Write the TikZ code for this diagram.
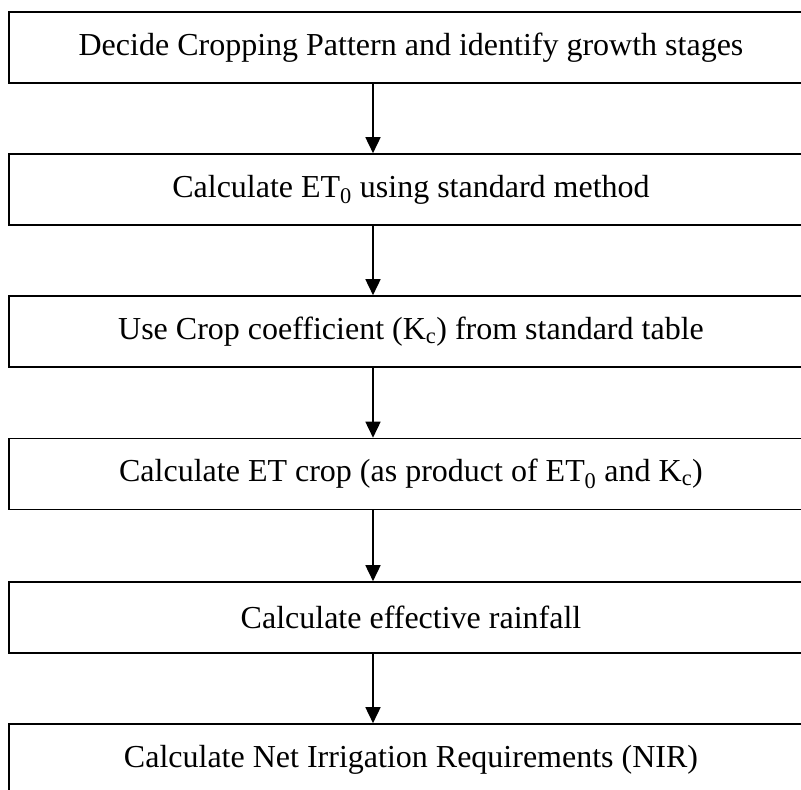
\documentclass[tikz,border=0pt]{standalone}
\usepackage{fontspec}
\setmainfont{Liberation Serif}
\usetikzlibrary{arrows.meta,positioning}

\begin{document}
\begin{tikzpicture}[x=1pt,y=-1pt,
  stage/.style={rectangle,draw,line width=1.6pt,minimum width=804pt,minimum height=71pt,
    inner sep=0pt,font=\fontsize{32}{38}\selectfont},
  flow/.style={-{Triangle[width=15pt,length=16pt]},line width=1.6pt}]
\useasboundingbox (0,0) rectangle (801,790);
\clip (0,0) rectangle (801,790);
% Steps of the irrigation requirement
\node[stage] (s1) at (411,47.5) {Decide Cropping Pattern and identify growth stages};
\node[stage] (s2) at (411,189.5) {Calculate ET\textsubscript{0} using standard method};
\node[stage] (s3) at (411,331.5) {Use Crop coefficient (K\textsubscript{c}) from standard table};
\node[stage] (s4) at (411,474) {Calculate ET crop (as product of ET\textsubscript{0} and K\textsubscript{c})};
\node[stage] (s5) at (411,617.5) {Calculate effective rainfall};
\node[stage] (s6) at (411,759.5) {Calculate Net Irrigation Requirements (NIR)};

\coordinate (ax) at (373,0);
\draw[flow] (s1.south -| ax) -- (s2.north -| ax);
\draw[flow] (s2.south -| ax) -- (s3.north -| ax);
\draw[flow] (s3.south -| ax) -- (s4.north -| ax);
\draw[flow] (s4.south -| ax) -- (s5.north -| ax);
\draw[flow] (s5.south -| ax) -- (s6.north -| ax);
\end{tikzpicture}
\end{document}
